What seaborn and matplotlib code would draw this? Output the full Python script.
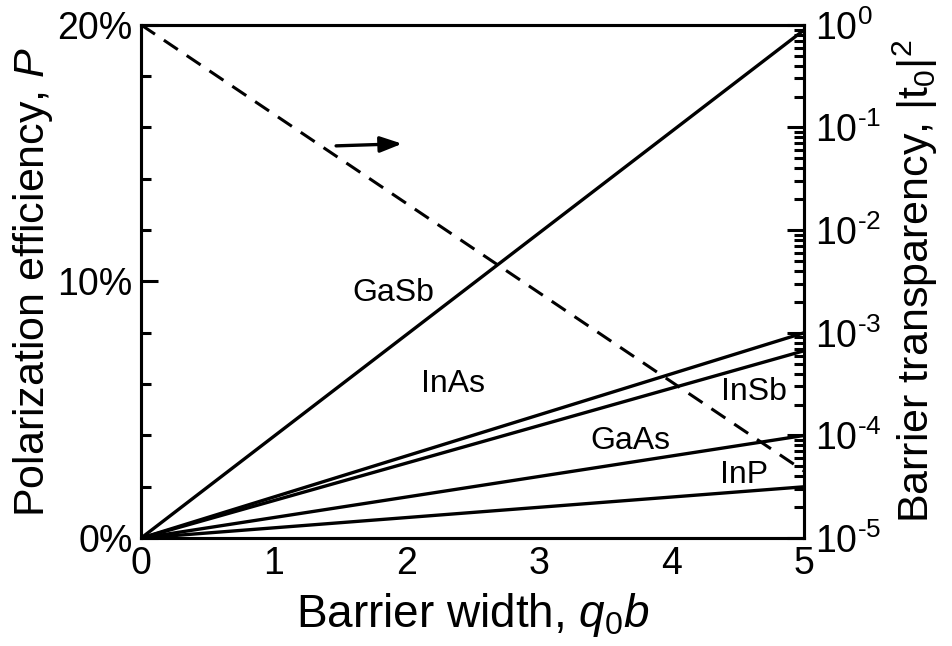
import numpy as np
import pandas as pd
import matplotlib
matplotlib.use("Agg")
import matplotlib.pyplot as plt
import matplotlib.ticker as mticker
import seaborn as sns

# Barrier width q0*b (dimensionless)
width = [0.0, 5.0]

# Polarization efficiency P (%) for each semiconductor barrier
materials = ["GaSb", "InAs", "InSb", "GaAs", "InP"]
polarization = {
    "GaSb": [0.0, 19.8],
    "InAs": [0.0, 8.0],
    "InSb": [0.0, 7.3],
    "GaAs": [0.0, 4.0],
    "InP": [0.0, 2.0],
}

# Barrier transparency |t0|^2 (right, logarithmic axis)
transparency = [1.0, 4.5e-5]

# Label anchors (q0b, P%)
label_pos = {
    "GaSb": (1.90, 9.55),
    "InAs": (2.35, 6.0),
    "InSb": (4.62, 5.69),
    "GaAs": (3.69, 3.78),
    "InP": (4.55, 2.46),
}

sns.set_theme(style="white")
plt.rcParams["font.family"] = ["Liberation Sans", "DejaVu Sans"]
plt.rcParams["mathtext.fontset"] = "custom"
plt.rcParams["mathtext.rm"] = "Liberation Sans"
plt.rcParams["mathtext.it"] = "Liberation Sans:italic"
plt.rcParams["mathtext.bf"] = "Liberation Sans:bold"
plt.rcParams["text.color"] = "black"
plt.rcParams["axes.labelcolor"] = "black"
plt.rcParams["xtick.color"] = "black"
plt.rcParams["ytick.color"] = "black"

fig = plt.figure(figsize=(9.53, 6.46), dpi=100)
ax = fig.add_axes([0.148, 0.167, 0.6957, 0.7946])
ax2 = ax.twinx()

df = pd.DataFrame(
    [(m, x, p) for m in materials for x, p in zip(width, polarization[m])],
    columns=["material", "q0b", "P"],
)
sns.lineplot(data=df, x="q0b", y="P", hue="material",
             palette=["black"] * len(materials), linewidth=2.4,
             legend=False, ax=ax)

dft = pd.DataFrame({"q0b": width, "t2": transparency})
sns.lineplot(data=dft, x="q0b", y="t2", color="black", linewidth=2.2,
             dashes=False, ax=ax2)
ax2.lines[0].set_linestyle((0, (5.5, 3.5)))

ax.set_xlim(0, 5)
ax.set_ylim(0, 20)
ax2.set_yscale("log")
ax2.set_ylim(1e-5, 1)

lw = 2.2
for a in (ax, ax2):
    for s in a.spines.values():
        s.set_linewidth(lw)
        s.set_color("black")

ax.xaxis.set_major_locator(mticker.MultipleLocator(1))
ax.xaxis.set_minor_locator(mticker.MultipleLocator(0.5))
ax.yaxis.set_major_locator(mticker.MultipleLocator(10))
ax.yaxis.set_minor_locator(mticker.MultipleLocator(2))
ax.yaxis.set_major_formatter(mticker.FuncFormatter(lambda v, _: f"{v:.0f}%"))

ax.tick_params(axis="both", which="both", direction="in", colors="black",
               labelsize=27, width=lw, top=False, right=False, pad=6)
ax.tick_params(axis="both", which="major", length=12)
ax.tick_params(axis="both", which="minor", length=7)

# hairline ticks along the top edge
ax2.tick_params(axis="x", which="both", direction="in", top=True, bottom=False,
                labeltop=False, labelbottom=False, length=2, width=1.2)

def sci_label(v, _):
    e = int(round(np.log10(v)))
    s = str(abs(e)) if e >= 0 else "\u2010" + str(abs(e))
    return r"10$^{\mathregular{%s}}$" % s

ax2.yaxis.set_major_locator(mticker.LogLocator(base=10, numticks=10))
ax2.yaxis.set_major_formatter(mticker.FuncFormatter(sci_label))
ax2.yaxis.set_minor_locator(mticker.LogLocator(base=10, subs=np.arange(2, 10), numticks=10))
ax2.yaxis.set_minor_formatter(mticker.NullFormatter())
ax2.tick_params(axis="y", which="both", direction="in", colors="black",
                labelsize=27, width=lw, pad=8)
ax2.tick_params(axis="y", which="major", length=12)
ax2.tick_params(axis="y", which="minor", length=7)

ax.set_xlabel(r"Barrier width, $q_0b$", fontsize=33, labelpad=6)
ax.set_ylabel(r"Polarization efficiency, $P$", fontsize=31, labelpad=2)
ax2.set_ylabel(r"Barrier transparency, |t$_\mathregular{0}$|$^\mathregular{2}$", fontsize=31, labelpad=6)

for m in materials:
    x, y = label_pos[m]
    ax.text(x, y, m, fontsize=23, ha="center", va="center", color="black")

ax.annotate("", xy=(1.99, 15.37), xytext=(1.45, 15.28),
            arrowprops=dict(arrowstyle="-|>,head_length=1.1,head_width=0.4",
                            color="black", lw=2.4))

ax.grid(False)
ax2.grid(False)
fig.savefig("out.png", dpi=100)
